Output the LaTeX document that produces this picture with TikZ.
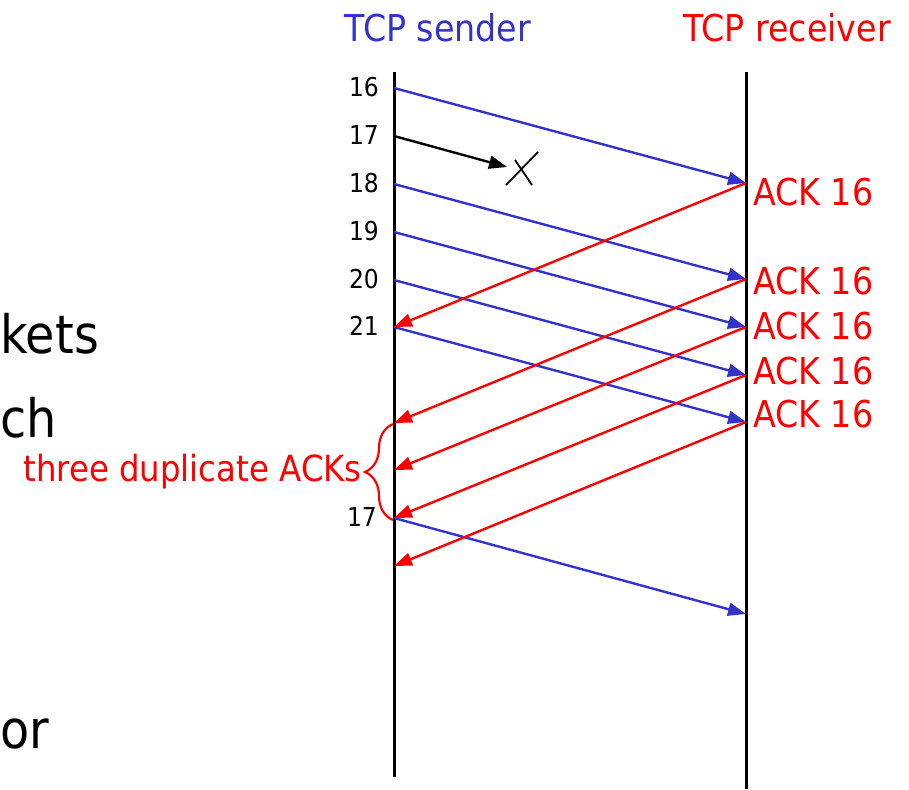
\documentclass[tikz,border=0pt]{standalone}
\usepackage{fontspec}
\setmainfont{DejaVu Sans Condensed}
\usepackage{xcolor}
\usepackage{tikz}
\usetikzlibrary{arrows.meta, positioning, calc, decorations.pathreplacing}

\definecolor{sendblue}{RGB}{51,51,204}
\definecolor{ackred}{RGB}{255,0,0}

\begin{document}
\begin{tikzpicture}[
		x=1pt, y=-1pt, % one unit = one pixel of the slide
		host/.style={font=\fontsize{37}{40}\selectfont, inner sep=0pt, anchor=base},
		seqno/.style={font=\fontsize{26}{28}\selectfont, anchor=east, inner sep=0pt},
		acklabel/.style={font=\fontsize{37}{40}\selectfont, text=ackred, anchor=west, inner sep=0pt},
		slidetext/.style={font=\fontsize{53}{56}\selectfont, anchor=base west, inner sep=0pt},
		timeline/.style={line width=3pt, black},
		segment/.style={-{Triangle[length=18pt, width=13pt]}, line width=2.4pt, sendblue},
		lostseg/.style={-{Triangle[length=18pt, width=13pt]}, line width=2.4pt, black},
		ackarrow/.style={-{Triangle[length=18pt, width=13pt]}, line width=2.4pt, ackred},
		dupbrace/.style={decorate, decoration={brace, amplitude=28pt}, line width=2.2pt, ackred}
		]
		\useasboundingbox (0,0) rectangle (909,789);
		
		% Slide text cut off at the left
		\node[slidetext] (frag1) at (0,353) {kets};
		\node[slidetext] (frag2) at (0,437) {ch};
		\node[slidetext] (frag3) at (0,748) {or};
		
		% Hosts
		\node[host, text=sendblue] (sender) at (438,42) {TCP sender};
		\node[host, text=ackred] (receiver) at (787,42) {TCP receiver};
		
		% Time lines
		\coordinate (stop) at (394,72);
		\coordinate (sbot) at (394,777);
		\coordinate (rtop) at (746,72);
		\coordinate (rbot) at (746,789);
		\draw[timeline] (stop) -- (sbot);
		\draw[timeline] (rtop) -- (rbot);
		
		% Sender events
		\coordinate (s16) at (394,88);
		\coordinate (s17) at (394,136);
		\coordinate (s18) at (394,184);
		\coordinate (s19) at (394,232);
		\coordinate (s20) at (394,280);
		\coordinate (s21) at (394,327);
		\coordinate (sd1) at (394,423);
		\coordinate (sd2) at (394,470);
		\coordinate (sre) at (394,518);
		\coordinate (sd4) at (394,566);
		
		% Receiver events
		\coordinate (r16) at (746,183);
		\coordinate (r18) at (746,279);
		\coordinate (r19) at (746,327);
		\coordinate (r20) at (746,375);
		\coordinate (r21) at (746,422);
		\coordinate (rre) at (746,614);
		
		% Sequence numbers
		\node[seqno] (n16) at (379,87) {16};
		\node[seqno] (n17) at (379,135) {17};
		\node[seqno] (n18) at (379,183) {18};
		\node[seqno] (n19) at (379,231) {19};
		\node[seqno] (n20) at (379,279) {20};
		\node[seqno] (n21) at (379,326) {21};
		\node[seqno] (nre) at (377,517) {17};
		
		% Segments
		\draw[segment] (s16) -- (r16);
		\draw[segment] (s18) -- (r18);
		\draw[segment] (s19) -- (r19);
		\draw[segment] (s20) -- (r20);
		\draw[segment] (s21) -- (r21);
		\draw[segment] (sre) -- (rre);
		
		% Lost segment
		\coordinate (lost) at (507,167);
		\coordinate (xmark) at (521,168);
		\draw[lostseg] (s17) -- (lost);
		\draw[line width=1.8pt] ($(xmark)+(17,-16)$) -- ($(xmark)+(-15,17)$);
		\draw[line width=1.8pt] ($(xmark)+(-6,-8)$) -- ($(xmark)+(11,17)$);
		
		% ACKs
		\draw[ackarrow] (r16) -- (s21);
		\draw[ackarrow] (r18) -- (sd1);
		\draw[ackarrow] (r19) -- (sd2);
		\draw[ackarrow] (r20) -- (sre);
		\draw[ackarrow] (r21) -- (sd4);
		\node[acklabel] (a1) at (753,192) {ACK 16};
		\node[acklabel] (a2) at (753,281) {ACK 16};
		\node[acklabel] (a3) at (753,326) {ACK 16};
		\node[acklabel] (a4) at (753,371) {ACK 16};
		\node[acklabel] (a5) at (753,414) {ACK 16};
		
		% Duplicate ACKs
		\coordinate (bbot) at (393,520);
		\coordinate (btop) at (393,424);
		\coordinate (btip) at (365,472);
		\draw[dupbrace] (bbot) -- (btop);
		\node[font=\fontsize{36}{38}\selectfont, text=ackred, inner sep=0pt, left=3pt of btip] (dup) {three duplicate ACKs};
		
	\end{tikzpicture}
\end{document}
